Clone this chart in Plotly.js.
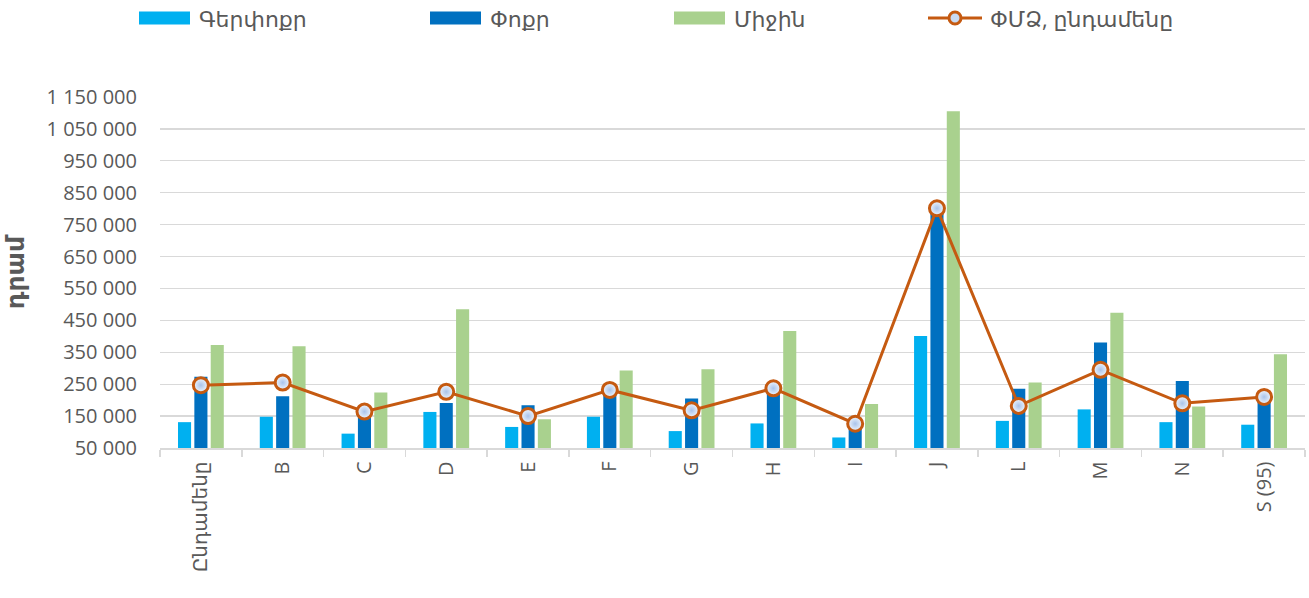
<!DOCTYPE html>
<html>
<head>
<meta charset="utf-8">
<script src="https://cdn.plot.ly/plotly-3.0.1.min.js"></script>
<style>html,body{margin:0;padding:0;background:#fff;}#chart{width:1309px;height:598px;}</style>
</head>
<body>
<div id="chart"></div>
<script>
const categories = ["Ընդամենը", "B", "C", "D", "E", "F", "G", "H", "I", "J", "L", "M", "N", "S (95)"];
const seriesNames = ["Գերփոքր", "Փոքր", "Միջին", "ՓՄՁ, ընդամենը"];
const microValues = [131000, 148000, 95000, 163000, 116000, 148000, 103000, 127000, 83000, 401000, 135000, 171000, 131000, 123000];
const smallValues = [273000, 212000, 160000, 191000, 184000, 228000, 205000, 236000, 118000, 785000, 236000, 381000, 260000, 205000];
const mediumValues = [373000, 369000, 224000, 485000, 140000, 293000, 297000, 417000, 188000, 1105000, 255000, 474000, 180000, 344000];
const totalValues = [247000, 255000, 164000, 226000, 150000, 232000, 168000, 237000, 126000, 801000, 182000, 295000, 190000, 210000];
const yTitle = "դրամ";

const FONT = "'Open Sans', 'DejaVu Sans', sans-serif";
const TEXT = '#595959';
const colors = ['#00B0F0', '#0070C0', '#A9D18E', '#C55A11'];

const W = 1309, H = 598;
const M = {l: 160, r: 4, t: 97, b: 150};
const PW = W - M.l - M.r, PH = H - M.t - M.b;
const px = v => (v - M.l) / PW;          // pixel x -> paper x
const py = v => (H - M.b - v) / PH;      // pixel y -> paper y

const traces = [
  {type: 'bar', name: seriesNames[0], x: categories, y: microValues, marker: {color: colors[0]}},
  {type: 'bar', name: seriesNames[1], x: categories, y: smallValues, marker: {color: colors[1]}},
  {type: 'bar', name: seriesNames[2], x: categories, y: mediumValues, marker: {color: colors[2]}},
  {type: 'scatter', mode: 'lines+markers', name: seriesNames[3], x: categories, y: totalValues,
   line: {color: colors[3], width: 3},
   marker: {symbol: 'circle', size: 15, color: '#f2f7fd', gradient: {type: 'radial', color: '#a9c3ea'},
            line: {color: colors[3], width: 3}}}
];

// custom legend (Excel style): wide swatches
const legendSwatchX = [139, 430, 674, 928];
const legendTextX = [197, 488, 732, 988];
const legY = 18;
const shapes = [];
const annotations = [];
for (let i = 0; i < 3; i++) {
  shapes.push({type: 'rect', xref: 'paper', yref: 'paper',
    x0: px(legendSwatchX[i]), x1: px(legendSwatchX[i] + 51), y0: py(legY + 6.5), y1: py(legY - 6.5),
    fillcolor: colors[i], line: {width: 0}});
}
shapes.push({type: 'line', xref: 'paper', yref: 'paper',
  x0: px(legendSwatchX[3]), x1: px(legendSwatchX[3] + 54), y0: py(legY), y1: py(legY),
  line: {color: colors[3], width: 3}});
shapes.push({type: 'circle', xref: 'paper', yref: 'paper',
  x0: px(legendSwatchX[3] + 21), x1: px(legendSwatchX[3] + 33), y0: py(legY + 6), y1: py(legY - 6),
  fillcolor: '#c9dbf3', line: {color: colors[3], width: 3}});
for (let i = 0; i < 4; i++) {
  annotations.push({text: seriesNames[i], xref: 'paper', yref: 'paper', x: px(legendTextX[i]), y: py(legY),
    xanchor: 'left', yanchor: 'middle', showarrow: false,
    font: {family: FONT, size: 22, color: TEXT}});
}

const layout = {
  width: W, height: H,
  margin: M,
  paper_bgcolor: '#ffffff', plot_bgcolor: '#ffffff',
  font: {family: FONT, color: TEXT, size: 19},
  separators: ', ',
  barmode: 'group', bargap: 0.4, bargroupgap: 0.2,
  showlegend: false,
  shapes: shapes,
  annotations: annotations,
  xaxis: {type: 'category', range: [-0.5, 13.5], tickangle: -90, showgrid: false, showline: true,
          linecolor: '#d9d9d9', linewidth: 1.5,
          ticks: 'outside', tickson: 'boundaries', ticklen: 7, tickcolor: '#d9d9d9', tickwidth: 1.5,
          tickfont: {family: FONT, size: 20, color: TEXT}, ticklabelstandoff: 4, fixedrange: true},
  yaxis: {range: [50000, 1150000], tick0: 50000, dtick: 100000, tickformat: ',d',
          showgrid: true, gridcolor: '#d9d9d9', gridwidth: 1.3, zeroline: false, showline: false,
          tickfont: {family: FONT, size: 20, color: TEXT}, ticks: '', ticklabelstandoff: 22,
          title: {text: yTitle, font: {family: "'DejaVu Sans', sans-serif", size: 25, color: TEXT, weight: 'bold'}, standoff: 14},
          fixedrange: true}
};

Plotly.newPlot('chart', traces, layout, {staticPlot: true, displayModeBar: false});
</script>
</body>
</html>
